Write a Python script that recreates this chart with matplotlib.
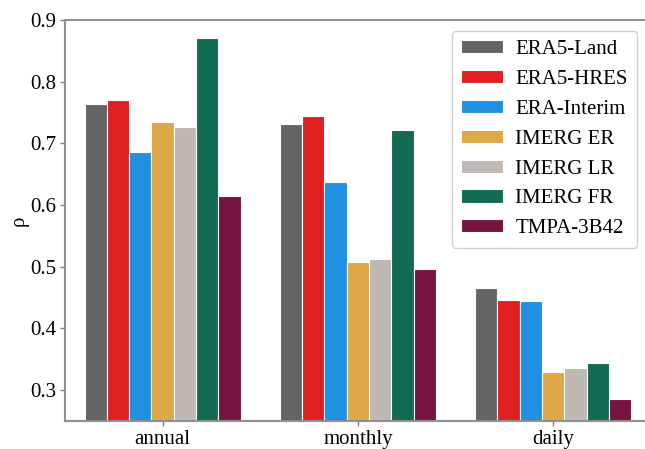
import matplotlib.pyplot as plt
import numpy as np

plt.rcParams['font.family'] = ['Liberation Serif', 'DejaVu Serif']

scales = ['annual', 'monthly', 'daily']
products = ['ERA5-Land', 'ERA5-HRES', 'ERA-Interim', 'IMERG ER', 'IMERG LR', 'IMERG FR', 'TMPA-3B42']
colors = ['#646464', '#e02020', '#2190e0', '#dea846', '#c0b8b2', '#136b53', '#75143f']

rho = {
    'ERA5-Land':   [0.763, 0.731, 0.466],
    'ERA5-HRES':   [0.770, 0.745, 0.446],
    'ERA-Interim': [0.686, 0.637, 0.444],
    'IMERG ER':    [0.734, 0.507, 0.330],
    'IMERG LR':    [0.727, 0.512, 0.336],
    'IMERG FR':    [0.871, 0.722, 0.344],
    'TMPA-3B42':   [0.615, 0.496, 0.285],
}

fig = plt.figure(figsize=(6.45, 4.49), dpi=100)
ax = fig.add_axes([0.1008, 0.0624, 0.8992, 0.8931])

x = np.arange(len(scales))
w = 0.8 / len(products)
for i, p in enumerate(products):
    ax.bar(x - 0.4 + w * (i + 0.5), rho[p], w, color=colors[i],
           edgecolor='white', linewidth=0.8, label=p)

ax.set_ylim(0.25, 0.9)
ax.set_xlim(-0.5, 2.47)
ax.set_xticks(x)
ax.set_xticklabels(scales)
ax.set_yticks([0.3, 0.4, 0.5, 0.6, 0.7, 0.8, 0.9])
ax.set_ylabel('ρ', fontsize=15, labelpad=1)
ax.tick_params(labelsize=15, color='#808080', length=3.5, width=1, pad=3)

for s in ['left', 'bottom', 'top']:
    ax.spines[s].set_color('#909090')
    ax.spines[s].set_linewidth(1.5)
ax.spines['right'].set_visible(False)

leg = ax.legend(loc='upper right', bbox_to_anchor=(0.986, 0.973), borderaxespad=0,
                fontsize=15, handlelength=2.0, handleheight=0.6, labelspacing=0.52,
                borderpad=0.45, handletextpad=0.6, framealpha=1,
                edgecolor='#d0d0d0', fancybox=True)

fig.savefig('out.png', dpi=100)
